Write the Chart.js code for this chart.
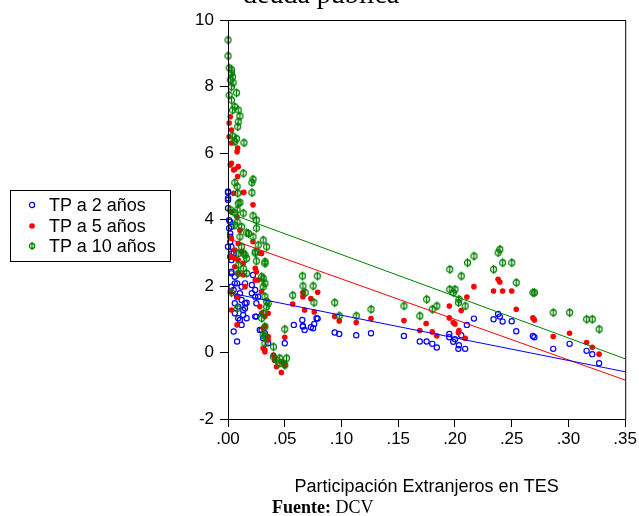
<!DOCTYPE html>
<html>
<head>
<meta charset="utf-8">
<script src="https://cdn.jsdelivr.net/npm/chart.js@4"></script>
<style>
  body { margin: 0; background: #fff; }
  #wrap { position: relative; width: 639px; height: 516px; }
  #legend {
    position: absolute; left: 10px; top: 190px; width: 159px; height: 70px;
    border: 1px solid #000; font: 18px "Liberation Sans", Arial, sans-serif; color: #000;
  }
  #legend div { position: absolute; left: 0; height: 20px; line-height: 20px; white-space: nowrap; }
  #legend svg { position: absolute; left: 15px; top: 4px; }
  #legend span { position: absolute; left: 38px; }
</style>
</head>
<body>
<div id="wrap">
  <canvas id="graphique" width="639" height="516"></canvas>
  <div id="legend"></div>
</div>
<script>
// TP yields vs foreign share of TES
const seriesNames = ["TP a 2 años", "TP a 5 años", "TP a 10 años"];
const seriesColors = ["#0000ff", "#ff0000", "#008000"];

const tp2Points = [
  [0.000,4.84],[0.000,4.64],[0.000,4.34],[0.001,3.98],[0.001,3.74],[0.002,3.48],[0.000,3.18],[0.003,2.98],[0.000,4.81],[0.000,4.59],
  [0.002,3.93],[0.003,3.78],[0.002,3.58],[0.002,3.33],[0.003,3.18],[0.005,2.98],[0.003,2.78],[0.003,2.43],[0.006,2.28],[0.008,2.08],
  [0.012,1.98],[0.005,1.88],[0.008,1.68],[0.012,1.58],[0.015,1.48],[0.009,1.38],[0.0134,1.28],[0.006,1.18],[0.0164,1.03],[0.0105,0.98],
  [0.005,0.63],[0.008,0.33],[0.021,1.78],[0.024,1.68],[0.024,1.08],[0.028,0.68],[0.0325,0.58],[0.0354,0.28],[0.050,0.28],[0.058,0.83],
  [0.066,0.78],[0.0675,0.68],[0.076,0.86],[0.075,0.73],[0.078,1.03],[0.002,2.88],[0.003,2.38],[0.022,2.33],[0.006,2.08],[0.015,2.08],
  [0.021,2.03],[0.003,1.98],[0.024,1.88],[0.0105,1.78],[0.0266,1.68],[0.0164,1.50],[0.006,1.48],[0.025,1.48],[0.015,1.33],[0.0134,1.13],
  [0.025,1.08],[0.009,1.03],[0.012,0.83],[0.0296,0.68],[0.031,0.43],[0.0655,0.98],[0.066,0.80],[0.079,1.02],[0.073,0.76],[0.094,0.60],
  [0.098,0.56],[0.113,0.52],[0.126,0.58],
  [0.155,0.50],[0.169,0.33],[0.175,0.33],[0.180,0.26],[0.184,0.15],[0.195,0.56],[0.195,0.46],[0.200,0.40],[0.1985,0.32],[0.2035,0.22],
  [0.203,0.11],[0.209,0.11],[0.2055,0.52],[0.2105,0.83],[0.2167,1.02],[0.234,1.00],[0.238,1.16],[0.2395,1.08],[0.242,0.93],[0.250,0.94],
  [0.254,0.64],[0.2687,0.50],[0.270,0.46],[0.2866,0.11],[0.301,0.26],[0.316,0.05],[0.321,-0.05],[0.327,-0.32]
];

const tp5Points = [
  [0.002,7.09],[0.001,6.90],[0.003,6.69],[0.001,6.49],[0.003,6.30],[0.0085,6.15],[0.008,6.04],[0.003,5.69],[0.009,5.59],[0.005,5.49],
  [0.0085,5.29],[0.014,4.82],[0.022,4.44],[0.005,4.79],[0.008,4.08],[0.002,5.64],[0.006,5.51],[0.0134,4.81],[0.003,4.23],[0.0105,3.68],
  [0.003,3.43],[0.009,3.28],[0.0296,2.98],[0.012,3.03],[0.003,2.88],[0.006,2.83],[0.028,2.99],[0.006,2.58],[0.0134,2.33],[0.025,2.43],
  [0.024,2.18],[0.0296,1.83],[0.002,1.83],[0.028,1.38],[0.003,1.28],[0.0296,1.18],[0.0354,1.18],[0.008,0.83],[0.031,0.73],[0.050,0.46],
  [0.0354,0.38],[0.031,0.13],[0.0325,0.02],[0.041,-0.23],[0.047,-0.28],[0.0427,-0.43],[0.050,-0.32],[0.047,-0.60],[0.050,-0.38],
  [0.006,3.08],[0.009,2.78],[0.0134,2.68],[0.009,2.38],[0.015,1.98],[0.008,1.68],[0.022,3.33],[0.024,2.53],[0.0266,2.18],[0.0325,1.08],
  [0.0325,0.78],[0.0354,0.48],[0.0325,0.08],[0.040,-0.08],
  [0.066,1.80],[0.079,1.81],[0.066,1.68],[0.073,1.62],[0.057,1.46],[0.0675,1.28],[0.076,1.22],[0.094,1.08],[0.098,0.95],[0.113,0.90],
  [0.126,1.02],
  [0.155,0.96],[0.169,0.66],[0.1746,0.87],[0.180,0.62],[0.184,0.50],[0.195,1.40],[0.195,1.04],[0.200,0.86],[0.1985,0.90],[0.2035,0.66],
  [0.203,0.60],[0.2055,1.26],[0.2105,1.67],[0.209,0.43],[0.2167,1.98],[0.234,1.85],[0.238,2.20],[0.2395,2.12],[0.242,1.85],[0.250,1.85],
  [0.254,1.30],[0.2687,1.04],[0.270,0.98],[0.2866,0.48],[0.301,0.58],[0.316,0.30],[0.321,0.16],[0.327,-0.05]
];

const tp10Points = [
  [0.000,9.40],[0.000,8.92],[0.001,8.56],[0.003,8.50],[0.003,8.40],[0.004,8.29],[0.002,8.20],[0.0045,8.11],[0.003,7.99],[0.0075,7.81],
  [0.001,7.74],[0.003,7.59],[0.006,7.39],[0.009,7.29],[0.004,7.29],[0.0105,7.11],[0.009,6.94],[0.0085,6.79],[0.004,6.51],[0.0075,6.43],
  [0.014,6.31],[0.006,6.34],[0.0134,5.39],[0.022,5.21],[0.021,5.11],[0.006,5.11],[0.008,4.99],[0.021,4.81],[0.0085,4.79],[0.0105,4.51],
  [0.008,4.29],[0.006,4.19],[0.0134,4.19],[0.022,4.11],[0.025,3.98],[0.008,3.93],[0.006,3.83],[0.0164,3.60],[0.025,3.74],[0.022,3.48],
  [0.031,3.38],[0.0266,3.23],[0.024,3.03],[0.015,2.93],[0.009,2.98],[0.0134,2.99],[0.024,2.99],[0.025,2.75],[0.0325,2.68],[0.009,2.63],
  [0.0134,2.53],[0.009,2.38],[0.0164,2.38],[0.0296,2.28],[0.0325,2.08],[0.031,1.98],[0.0325,1.68],[0.034,1.53],[0.034,1.38],[0.008,1.33],
  [0.0296,1.03],[0.050,0.70],[0.031,0.53],[0.0325,0.28],[0.040,0.17],[0.040,-0.13],[0.0456,-0.17],[0.0515,-0.17],[0.0456,-0.32],[0.050,-0.38],
  [0.009,4.49],[0.002,4.29],[0.012,3.78],[0.018,3.58],[0.0105,3.48],[0.012,3.18],[0.034,3.18],[0.0164,2.83],[0.0325,2.73],[0.031,2.23],
  [0.003,1.80],[0.0354,1.48],[0.031,1.18],[0.0325,0.78],[0.0325,0.48],[0.0427,-0.23],
  [0.0655,2.30],[0.0787,2.30],[0.066,2.00],[0.075,2.00],[0.068,1.80],[0.057,1.72],[0.0757,1.50],[0.094,1.50],[0.098,1.10],[0.113,1.10],
  [0.126,1.30],
  [0.155,1.40],[0.175,1.60],[0.180,1.30],[0.184,1.40],[0.169,1.10],[0.1954,2.50],[0.2055,2.30],[0.211,2.70],[0.2167,2.90],[0.1954,1.90],
  [0.200,1.90],[0.1985,1.80],[0.2035,1.60],[0.203,1.50],[0.209,1.40],[0.234,2.50],[0.238,3.00],[0.2395,3.10],[0.242,2.70],[0.250,2.70],
  [0.254,2.10],[0.2687,1.80],[0.270,1.80],[0.2866,1.20],[0.301,1.20],[0.316,1.00],[0.321,1.00],[0.327,0.70]
];

// fitted lines, value at x = 0 and x = 0.35
const fitX = [0, 0.35];
const fit2Y = [1.80, -0.58];
const fit5Y = [3.43, -0.83];
const fit10Y = [4.20, -0.19];

const xTicks = [".00", ".05", ".10", ".15", ".20", ".25", ".30", ".35"];
const yTicks = [-2, 0, 2, 4, 6, 8, 10];

function toXY(arr) {
  return arr.map(function (p) { return { x: p[0], y: p[1] }; });
}
function fitLine(ys) {
  return fitX.map(function (x, i) { return { x: x, y: ys[i] }; });
}

// green marker: circle with a vertical bar
function greenMarker() {
  var c = document.createElement("canvas");
  c.width = 9; c.height = 11;
  var g = c.getContext("2d");
  g.strokeStyle = seriesColors[2];
  g.lineWidth = 1.3;
  g.beginPath(); g.arc(4.5, 5.5, 3, 0, Math.PI * 2); g.stroke();
  g.beginPath(); g.moveTo(4.5, 1); g.lineTo(4.5, 10); g.stroke();
  return c;
}

var frame = {
  id: "frame",
  afterDraw: function (chart) {
    var ctx = chart.ctx, a = chart.chartArea;
    ctx.save();
    ctx.strokeStyle = "#000";
    ctx.lineWidth = 1;
    ctx.strokeRect(a.left + 0.5, a.top + 0.5, a.right - a.left, a.bottom - a.top);
    // cut-off title at the top
    ctx.fillStyle = "#000";
    ctx.font = '28px "Liberation Serif", "Times New Roman", serif';
    ctx.textBaseline = "alphabetic";
    ctx.fillText("deuda pública", 243, 3);
    // source line
    ctx.font = 'bold 18px "Liberation Serif", "Times New Roman", serif';
    ctx.fillText("Fuente:", 272, 513);
    var w = ctx.measureText("Fuente: ").width;
    ctx.font = '18px "Liberation Serif", "Times New Roman", serif';
    ctx.fillText("DCV", 272 + w, 513);
    ctx.restore();
  }
};

Chart.defaults.font.family = '"Liberation Sans", Arial, sans-serif';
Chart.defaults.color = "#000";

new Chart(document.getElementById("graphique"), {
  type: "scatter",
  data: {
    datasets: [
      { data: fitLine(fit2Y), showLine: true, borderColor: seriesColors[0], borderWidth: 1, pointRadius: 0, order: 0 },
      { data: fitLine(fit5Y), showLine: true, borderColor: seriesColors[1], borderWidth: 1, pointRadius: 0, order: 0 },
      { data: fitLine(fit10Y), showLine: true, borderColor: seriesColors[2], borderWidth: 1, pointRadius: 0, order: 0 },
      { label: seriesNames[2], data: toXY(tp10Points), pointStyle: greenMarker(), pointRadius: 4, order: 1, clip: false },
      { label: seriesNames[1], data: toXY(tp5Points), pointStyle: "circle", pointRadius: 2.8, borderWidth: 0,
        backgroundColor: seriesColors[1], borderColor: seriesColors[1], order: 2, clip: false },
      { label: seriesNames[0], data: toXY(tp2Points), pointStyle: "circle", pointRadius: 2.6, borderWidth: 1.2,
        backgroundColor: "rgba(0,0,0,0)", borderColor: seriesColors[0], order: 3, clip: false }
    ]
  },
  options: {
    responsive: false,
    animation: false,
    events: [],
    layout: { padding: { left: 180, right: 11, top: 20, bottom: 0 } },
    plugins: { legend: { display: false }, tooltip: { enabled: false } },
    scales: {
      x: {
        type: "linear", min: 0, max: 0.35,
        afterBuildTicks: function (s) { s.ticks = xTicks.map(function (t) { return { value: parseFloat("0" + t) }; }); },
        afterFit: function (s) { s.height = 97; },
        ticks: {
          font: { size: 17 }, padding: 2,
          callback: function (v, i) { return xTicks[i]; }
        },
        grid: { drawOnChartArea: false, tickLength: 8, color: "#000" },
        border: { display: false },
        title: {
          display: true, text: "Participación Extranjeros en TES",
          font: { size: 18 }, padding: { top: 0, bottom: 18 }
        }
      },
      y: {
        type: "linear", min: -2, max: 10,
        afterBuildTicks: function (s) { s.ticks = yTicks.map(function (t) { return { value: t }; }); },
        afterFit: function (s) { s.width = 48; },
        ticks: { font: { size: 17 }, padding: 6 },
        grid: { drawOnChartArea: false, tickLength: 8, color: "#000" },
        border: { display: false }
      }
    }
  },
  plugins: [frame]
});

// legend box to the left
var legend = document.getElementById("legend");
var rows = [0, 1, 2];
var marks = [
  '<circle cx="6" cy="6" r="2.6" fill="none" stroke="#0000ff" stroke-width="1.2"/>',
  '<circle cx="6" cy="6" r="2.8" fill="#ff0000"/>',
  '<circle cx="6" cy="6" r="2.6" fill="none" stroke="#008000" stroke-width="1.3"/><line x1="6" y1="2" x2="6" y2="10" stroke="#008000" stroke-width="1.3"/>'
];
rows.forEach(function (i) {
  var d = document.createElement("div");
  d.style.top = (4 + i * 20.5) + "px";
  d.innerHTML = '<svg width="12" height="12">' + marks[i] + '</svg><span>' + seriesNames[i] + '</span>';
  legend.appendChild(d);
});
</script>
</body>
</html>
